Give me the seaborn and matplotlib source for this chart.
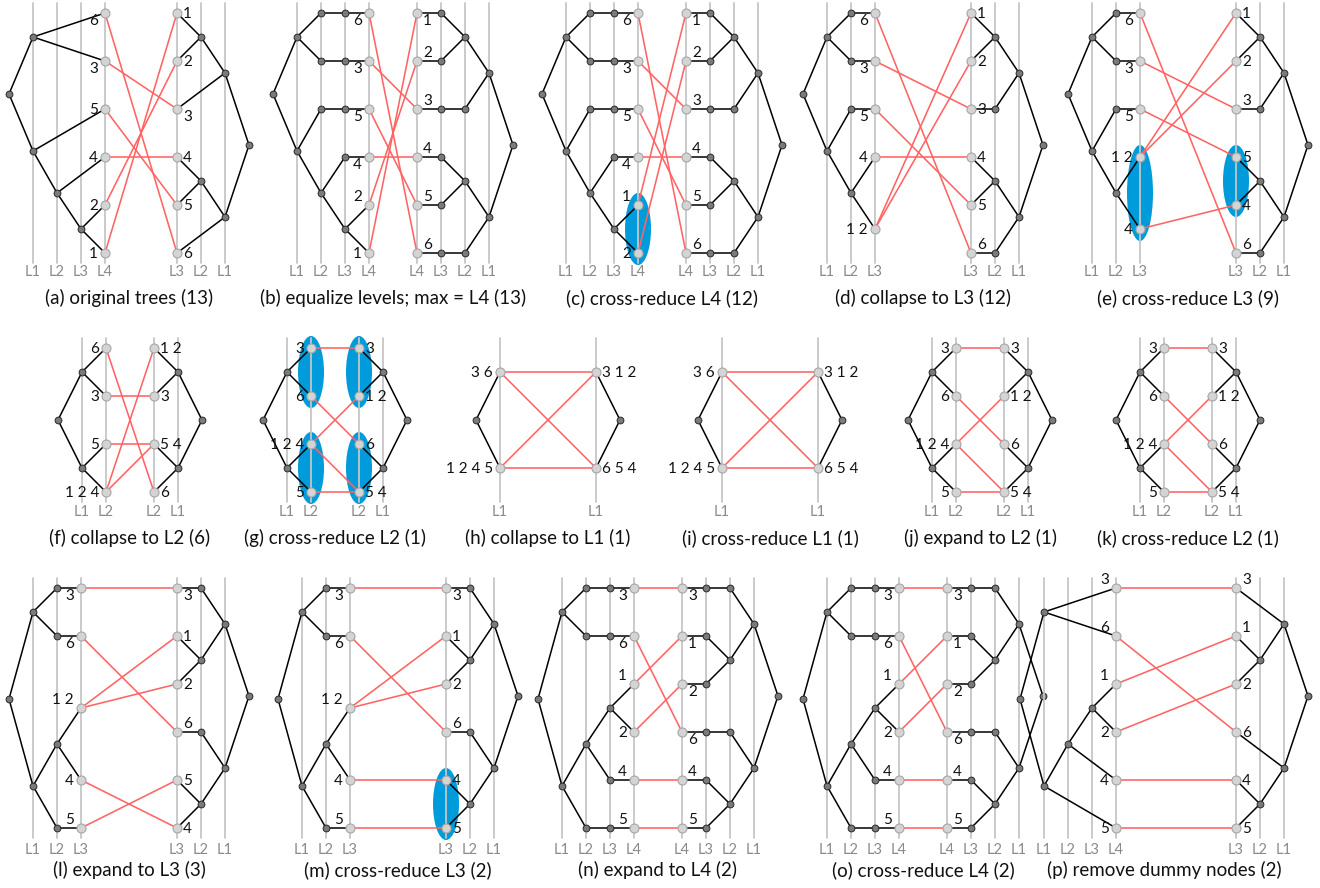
import matplotlib
matplotlib.use('Agg')
import matplotlib.pyplot as plt
from matplotlib.patches import Ellipse
import seaborn as sns
import pandas as pd

sns.set_theme(style='white')
plt.rcParams['font.family'] = ['Lato', 'DejaVu Sans']

W_PX, H_PX = 1320, 888
UX, UY = 24, 48          # pixels per level / per leaf slot

# trees written top to bottom, leaf slots in the same order
TREE_A_L = (('6', '3'), ('5', ('4', ('2', '1'))))
TREE_A_R = ((('1', '2'), '3'), (('4', '5'), '6'))
TREE_C_L = (('6', '3'), ('5', ('4', ('1', '2'))))
TREE_D_L = (('6', '3'), ('5', ('4', '12')))
TREE_E_L = (('6', '3'), ('5', ('12', '4')))
TREE_E_R = ((('1', '2'), '3'), (('5', '4'), '6'))
TREE_F_L = (('6', '3'), ('5', '124'))
TREE_F_R = (('12', '3'), ('54', '6'))
TREE_G_L = (('3', '6'), ('124', '5'))
TREE_G_R = (('3', '12'), ('6', '54'))
TREE_H_L = ('36', '1245')
TREE_H_R = ('312', '654')
TREE_L_L = (('3', '6'), (('12', '4'), '5'))
TREE_L_R = (('3', ('1', '2')), ('6', ('5', '4')))
TREE_M_R = (('3', ('1', '2')), ('6', ('4', '5')))
TREE_N_L = (('3', '6'), ((('1', '2'), '4'), '5'))

SLOTS6 = [0, 1, 2, 3, 4, 5]
SLOTS_D = [0, 1, 2, 3, 4.5]
SLOTS4 = [0, 1, 2, 3]
SLOTS_H = [0.5, 2.5]
SLOTS_L = [0, 1, 2.5, 4, 5]

# row layout (pixels)
ROW_TOP = [13, 348, 588]
ROW_MAXSLOT = [5, 3, 5]
ROW_LEVEL_Y = [272, 512, 850]
ROW_TITLE_Y = [298, 538, 870]

# leaf label placement: b = below, a = above, s = beside
LABEL_DY = {'b': 8, 'a': -8, 's': 1}

panels = [
    dict(title='(a) original trees (13)', row=0, x0=9, L=(TREE_A_L, SLOTS6, 4), gap=3,
         R=(TREE_A_R, SLOTS6, 3), mode='plain', ell=[], lab=('bbssss', 'ssbsss')),
    dict(title='(b) equalize levels; max = L4 (13)', row=0, x0=273, L=(TREE_A_L, SLOTS6, 4), gap=2,
         R=(TREE_A_R, SLOTS6, 4), mode='pad', ell=[], lab=('bbbbas', 'baaaaa')),
    dict(title='(c) cross-reduce L4 (12)', row=0, x0=542, L=(TREE_C_L, SLOTS6, 4), gap=2,
         R=(TREE_A_R, SLOTS6, 4), mode='pad', ell=[('L', 4, 5)], lab=('bbbbas', 'baaaaa')),
    dict(title='(d) collapse to L3 (12)', row=0, x0=803, L=(TREE_D_L, SLOTS_D, 3), gap=4,
         R=(TREE_A_R, SLOTS6, 3), mode='pad', ell=[], lab=('bbbss', 'sssssa')),
    dict(title='(e) cross-reduce L3 (9)', row=0, x0=1068, L=(TREE_E_L, SLOTS_D, 3), gap=4,
         R=(TREE_E_R, SLOTS6, 3), mode='pad', ell=[('L', 3, 4.5), ('R', 3, 4)],
         lab=('bbbss', 'ssassa')),
    dict(title='(f) collapse to L2 (6)', row=1, x0=58, L=(TREE_F_L, SLOTS4, 2), gap=2,
         R=(TREE_F_R, SLOTS4, 2), mode='pad', ell=[], lab=('ssss', 'ssss')),
    dict(title='(g) cross-reduce L2 (1)', row=1, x0=263, L=(TREE_G_L, SLOTS4, 2), gap=2,
         R=(TREE_G_R, SLOTS4, 2), mode='pad',
         ell=[('L', 0, 1), ('L', 2, 3), ('R', 0, 1), ('R', 2, 3)], lab=('ssss', 'ssss')),
    dict(title='(h) collapse to L1 (1)', row=1, x0=476, L=(TREE_H_L, SLOTS_H, 1), gap=4,
         R=(TREE_H_R, SLOTS_H, 1), mode='pad', ell=[], lab=('ss', 'ss')),
    dict(title='(i) cross-reduce L1 (1)', row=1, x0=698, L=(TREE_H_L, SLOTS_H, 1), gap=4,
         R=(TREE_H_R, SLOTS_H, 1), mode='pad', ell=[], lab=('ss', 'ss')),
    dict(title='(j) expand to L2 (1)', row=1, x0=908, L=(TREE_G_L, SLOTS4, 2), gap=2,
         R=(TREE_G_R, SLOTS4, 2), mode='pad', ell=[], lab=('ssss', 'ssss')),
    dict(title='(k) cross-reduce L2 (1)', row=1, x0=1116, L=(TREE_G_L, SLOTS4, 2), gap=2,
         R=(TREE_G_R, SLOTS4, 2), mode='pad', ell=[], lab=('ssss', 'ssss')),
    dict(title='(l) expand to L3 (3)', row=2, x0=9, L=(TREE_L_L, SLOTS_L, 3), gap=4,
         R=(TREE_L_R, SLOTS6, 3), mode='pad', ell=[], lab=('bbasa', 'bssass')),
    dict(title='(m) cross-reduce L3 (2)', row=2, x0=278, L=(TREE_L_L, SLOTS_L, 3), gap=4,
         R=(TREE_M_R, SLOTS6, 3), mode='pad', ell=[('R', 4, 5)], lab=('bbasa', 'bssass')),
    dict(title='(n) expand to L4 (2)', row=2, x0=538, L=(TREE_N_L, SLOTS6, 4), gap=2,
         R=(TREE_M_R, SLOTS6, 4), mode='pad', ell=[], lab=('bbasaa', 'bbbbaa')),
    dict(title='(o) cross-reduce L4 (2)', row=2, x0=803, L=(TREE_N_L, SLOTS6, 4), gap=2,
         R=(TREE_M_R, SLOTS6, 4), mode='pad', ell=[], lab=('bbasaa', 'bbbbaa')),
    dict(title='(p) remove dummy nodes (2)', row=2, x0=1020, L=(TREE_N_L, SLOTS6, 4), gap=5,
         R=(TREE_M_R, SLOTS6, 3), mode='plain', ell=[], lab=('aaasss', 'aassss')),
]


def layout(tree, slots, depth, mode):
    nodes, edges = [], []
    it = iter(slots)

    def rec(t, lev):
        if isinstance(t, str):
            y = next(it)
            if mode == 'pad':
                pts = [(l, y) for l in range(lev, depth + 1)]
                for p, q in zip(pts[:-1], pts[1:]):
                    edges.append((p, q))
                for p in pts[:-1]:
                    nodes.append((p[0], y, 'inner', ''))
                nodes.append((depth, y, 'leaf', t))
                return (lev, y)
            nodes.append((depth, y, 'leaf', t))
            return (depth, y)
        kids = [rec(c, lev + 1) for c in t]
        y = sum(k[1] for k in kids) / len(kids)
        nodes.append((lev, y, 'inner', ''))
        for k in kids:
            edges.append(((lev, y), k))
        return (lev, y)

    rec(tree, 0)
    return nodes, edges


def segments(pairs):
    rows = []
    for i, (a, b) in enumerate(pairs):
        rows += [(a[0], a[1], i), (b[0], b[1], i)]
    return pd.DataFrame(rows, columns=['x', 'y', 'seg'])


fig = plt.figure(figsize=(W_PX / 100, H_PX / 100), dpi=100)
fig.patch.set_facecolor('white')

for p in panels:
    row = p['row']
    y0 = ROW_TOP[row]
    ymax = ROW_MAXSLOT[row]
    tL, sL, dL = p['L']
    tR, sR, dR = p['R']
    xr = dL + p['gap'] + dR          # right root position
    x0 = p['x0']
    ax = fig.add_axes([(x0 - UX) / W_PX, 1 - (y0 + (ymax + 1) * UY) / H_PX,
                       (xr + 2) * UX / W_PX, (ymax + 2) * UY / H_PX])
    ax.set_xlim(-1, xr + 1)
    ax.set_ylim(ymax + 1, -1)
    ax.axis('off')

    nL, eL = layout(tL, sL, dL, p['mode'])
    nR, eR = layout(tR, sR, dR, p['mode'])
    nodes = [(lv, y, k, t, 'L') for lv, y, k, t in nL] + \
            [(xr - lv, y, k, t, 'R') for lv, y, k, t in nR]
    edges = [((a[0], a[1]), (b[0], b[1])) for a, b in eL] + \
            [((xr - a[0], a[1]), (xr - b[0], b[1])) for a, b in eR]
    ndf = pd.DataFrame(nodes, columns=['x', 'y', 'kind', 'label', 'side'])

    # level guide lines
    cols = [(c, 'L%d' % c) for c in range(1, dL + 1)] + [(xr - c, 'L%d' % c) for c in range(1, dR + 1)]
    gdf = segments([((c, -0.2), (c, ymax + 0.2)) for c, _ in cols])
    sns.lineplot(data=gdf, x='x', y='y', units='seg', estimator=None, sort=False,
                 color='#c6c6c6', lw=1.3, ax=ax, legend=False, zorder=1)
    lab_y = (ROW_LEVEL_Y[row] - y0) / UY
    for c, name in cols:
        ax.text(c, lab_y, name, ha='center', va='center', fontsize=10.5, color='#8a8a8a')

    # highlighted groups
    for side, lo, hi in p['ell']:
        cx = dL if side == 'L' else dL + p['gap']
        ax.add_patch(Ellipse((cx, (lo + hi) / 2), 26 / UX, hi - lo + 24 / UY,
                             facecolor='#009bdb', edgecolor='none', zorder=0.5))

    # tree edges
    sns.lineplot(data=segments(edges), x='x', y='y', units='seg', estimator=None, sort=False,
                 color='black', lw=1.1, ax=ax, legend=False, zorder=2)

    # connections between the two trees
    leavesL = ndf[(ndf.kind == 'leaf') & (ndf.side == 'L')]
    leavesR = ndf[(ndf.kind == 'leaf') & (ndf.side == 'R')]
    links = []
    for _, a in leavesL.iterrows():
        for _, b in leavesR.iterrows():
            if set(a.label) & set(b.label):
                links.append(((a.x, a.y), (b.x, b.y)))
    sns.lineplot(data=segments(links), x='x', y='y', units='seg', estimator=None, sort=False,
                 color='#ff6464', lw=1.15, ax=ax, legend=False, zorder=2.5)

    # nodes
    sns.scatterplot(data=ndf[ndf.kind == 'inner'], x='x', y='y', s=24, color='#7a7a7a',
                    edgecolor='#2a2a2a', linewidth=0.7, ax=ax, zorder=4, legend=False)
    sns.scatterplot(data=ndf[ndf.kind == 'leaf'], x='x', y='y', s=42, color='#d4d4d4',
                    edgecolor='#a6a6a6', linewidth=0.8, ax=ax, zorder=4, legend=False)

    # leaf labels, top to bottom on each side
    for side, codes in zip(('L', 'R'), p['lab']):
        lv = ndf[(ndf.kind == 'leaf') & (ndf.side == side)].sort_values('y')
        for (_, r), c in zip(lv.iterrows(), codes):
            txt = ' '.join(r.label)
            dy = LABEL_DY[c] / UY
            if side == 'L':
                ax.text(r.x - 7 / UX, r.y + dy, txt, ha='right', va='center',
                        fontsize=11, color='#111111')
            else:
                ax.text(r.x + 6 / UX, r.y + dy, txt, ha='left', va='center',
                        fontsize=11, color='#111111')

    ax.set_xlabel('')
    ax.set_ylabel('')
    fig.text((x0 + xr * UX / 2) / W_PX, 1 - ROW_TITLE_Y[row] / H_PX, p['title'],
             ha='center', va='center', fontsize=13.5, color='#111111')

fig.savefig('out.png', dpi=100, facecolor='white')
